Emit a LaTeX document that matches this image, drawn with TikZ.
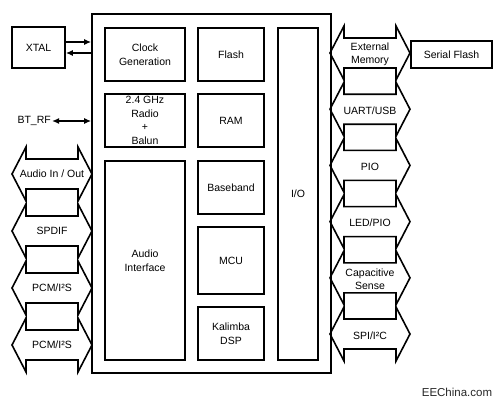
\documentclass[tikz,border=0pt]{standalone}
\usepackage{fontspec}
\setmainfont{Liberation Sans}
\usetikzlibrary{arrows.meta}

\tikzset{
  blk/.style={draw, line width=1.7pt, align=center, inner sep=0pt},
  bus/.style={draw, line width=1.6pt, line join=miter},
  sig/.style={line width=1.6pt, -{Latex[length=7pt,width=6pt]}},
  sigb/.style={line width=1.6pt, {Latex[length=7pt,width=6pt]}-{Latex[length=7pt,width=6pt]}},
}

\begin{document}
\begin{tikzpicture}[x=1pt, y=-1pt, font=\fontsize{10.5}{13.5}\selectfont]

\useasboundingbox (0,0) rectangle (500,404);

% bus arrow sizes:
\pgfmathsetmacro\arrL{40};
\pgfmathsetmacro\arrT{14};
\pgfmathsetmacro\arrS{15};
\pgfmathsetmacro\arrH{27};

% the chip and its blocks:
\node[blk, minimum width=239, minimum height=359] (chip) at (211.5,193.5) {};
\node[blk, minimum width=80, minimum height=53] (clk) at (145,54.5) {Clock\\Generation};
\node[blk, minimum width=66, minimum height=53] (flash) at (231,54.5) {Flash};
\node[blk, minimum width=80, minimum height=53] (radio) at (145,120.5) {2.4 GHz\\Radio\\+\\Balun};
\node[blk, minimum width=66, minimum height=53] (ram) at (231,120.5) {RAM};
\node[blk, minimum width=80, minimum height=199] (audio) at (145,260.5) {Audio\\Interface};
\node[blk, minimum width=66, minimum height=53] (bb) at (231,187.5) {Baseband};
\node[blk, minimum width=66, minimum height=67] (mcu) at (231,260.5) {MCU};
\node[blk, minimum width=66, minimum height=53] (dsp) at (231,333.5) {Kalimba\\DSP};
\node[blk, minimum width=40, minimum height=332] (io) at (298,194) {I/O};

% outside parts:
\node[blk, minimum width=53, minimum height=41] (xtal) at (38.5,47.5) {XTAL};
\node[blk, minimum width=81, minimum height=27] (sflash) at (451.5,54.5) {Serial Flash};
\node[anchor=east, inner sep=1pt] (btrf) at (52,121) {BT\_RF};

\coordinate (xa) at (0,42);
\coordinate (xb) at (0,53);
\draw[sig] (xtal.east |- xa) -- (chip.west |- xa);
\draw[sig] (chip.west |- xb) -- (xtal.east |- xb);
\draw[sigb] (btrf.east) -- (chip.west |- btrf);

% left buses:
\foreach \txt [count=\i, evaluate=\i as \yc using 174+57*(\i-1)] in
    {Audio In / Out, SPDIF, PCM/I²S, PCM/I²S}{
  \begin{scope}[shift={(52,\yc)}]
    \draw[bus] (-\arrL,0) -- (-\arrL+\arrT,-\arrH) -- (-\arrL+\arrT,-\arrS)
      -- (\arrL-\arrT,-\arrS) -- (\arrL-\arrT,-\arrH) -- (\arrL,0)
      -- (\arrL-\arrT,\arrH) -- (\arrL-\arrT,\arrS) -- (-\arrL+\arrT,\arrS)
      -- (-\arrL+\arrT,\arrH) -- cycle;
    \node[align=center, inner sep=0pt] (lbus\i) at (0,0) {\txt};
  \end{scope}
}

% right buses:
\foreach \txt [count=\i, evaluate=\i as \yc using 53+56.2*(\i-1)] in
    {External\\Memory, UART/USB, PIO, LED/PIO, Capacitive\\Sense, SPI/I²C}{
  \begin{scope}[shift={(370,\yc)}]
    \draw[bus] (-\arrL,0) -- (-\arrL+\arrT,-\arrH) -- (-\arrL+\arrT,-\arrS)
      -- (\arrL-\arrT,-\arrS) -- (\arrL-\arrT,-\arrH) -- (\arrL,0)
      -- (\arrL-\arrT,\arrH) -- (\arrL-\arrT,\arrS) -- (-\arrL+\arrT,\arrS)
      -- (-\arrL+\arrT,\arrH) -- cycle;
    \node[align=center, inner sep=0pt] (rbus\i) at (0,1.5) {\txt};
  \end{scope}
}

\node[font=\fontsize{11.5}{13}\selectfont, text=black!85] (wm) at (457,392) {EEChina.com};

\end{tikzpicture}
\end{document}
